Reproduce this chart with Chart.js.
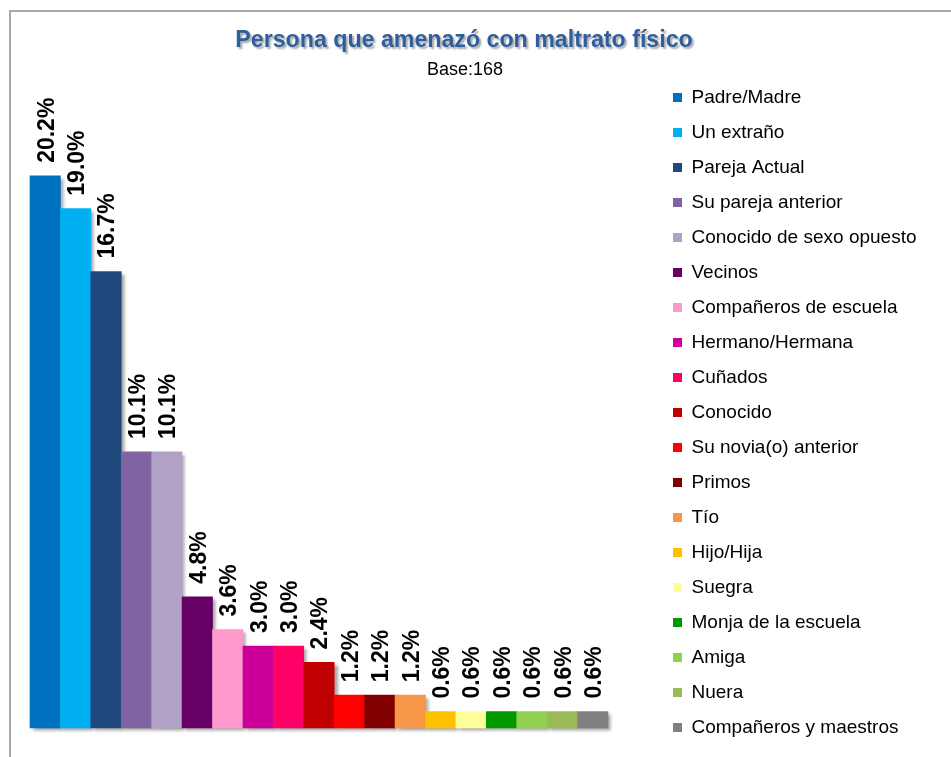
<!DOCTYPE html>
<html><head><meta charset="utf-8">
<script src="https://cdn.jsdelivr.net/npm/chart.js@4.4.1/dist/chart.umd.min.js"></script>
<style>
html,body{margin:0;padding:0;background:#fff;overflow:hidden;width:951px;height:757px;}
#frame{position:absolute;left:9px;top:10px;width:1200px;height:1000px;border-left:2px solid #a8a8a8;border-top:2px solid #a8a8a8;}
#wrap{position:absolute;left:0;top:0;width:951px;height:757px;}
</style></head><body>
<div id="frame"></div>
<div id="wrap"><canvas id="c" width="951" height="757"></canvas></div>
<script>
const titleText = 'Persona que amenazó con maltrato físico';
const subtitleText = 'Base:168';
const categories = ['Padre/Madre','Un extraño','Pareja Actual','Su pareja anterior','Conocido de sexo opuesto','Vecinos','Compañeros de escuela','Hermano/Hermana','Cuñados','Conocido','Su novia(o) anterior','Primos','Tío','Hijo/Hija','Suegra','Monja de la escuela','Amiga','Nuera','Compañeros y maestros'];
const values = [20.2, 19.0, 16.7, 10.1, 10.1, 4.8, 3.6, 3.0, 3.0, 2.4, 1.2, 1.2, 1.2, 0.6, 0.6, 0.6, 0.6, 0.6, 0.6];
const colors = ['#0070C0','#00B0F0','#1F497D','#8064A2','#B2A1C7','#660066','#FF99CC','#CC0099','#FF0066','#C00000','#FF0000','#800000','#F79646','#FFC000','#FFFF99','#009900','#92D050','#9BBB59','#808080'];

const FONT = '"Liberation Sans", Arial, sans-serif';
const legendFontSize = 19;
const legendPad = 16;
const legendBox = 9;
const legendLeft = 657;
const yGap = 49;

const mctx = document.createElement('canvas').getContext('2d');
mctx.font = legendFontSize + 'px ' + FONT;
let maxW = 0;
categories.forEach(c => { maxW = Math.max(maxW, mctx.measureText(c).width); });
const legendWidth = legendPad + legendBox + legendFontSize / 2 + maxW + 10;
const padRight = Math.max(0, 951 - legendLeft - legendWidth);

const shadowAndLabels = {
  id: 'shadowAndLabels',
  beforeDatasetsDraw(chart) {
    const ctx = chart.ctx;
    ctx.save();
    ctx.shadowColor = 'rgba(0,0,0,0.35)';
    ctx.shadowBlur = 3;
    ctx.shadowOffsetX = 3;
    ctx.shadowOffsetY = 3;
  },
  afterDatasetsDraw(chart) {
    const ctx = chart.ctx;
    ctx.restore();
    const meta = chart.getDatasetMeta(0);
    ctx.save();
    ctx.font = 'bold 23px ' + FONT;
    ctx.fillStyle = '#000';
    ctx.textAlign = 'left';
    ctx.textBaseline = 'middle';
    meta.data.forEach((bar, i) => {
      ctx.save();
      ctx.translate(bar.x + 2, bar.y - 13);
      ctx.rotate(-Math.PI / 2);
      ctx.fillText(values[i].toFixed(1) + '%', 0, 0);
      ctx.restore();
    });
    ctx.restore();
  },
  afterDraw(chart) {
    const ctx = chart.ctx;
    ctx.save();
    ctx.textAlign = 'center';
    ctx.textBaseline = 'alphabetic';
    ctx.font = 'bold 23.2px ' + FONT;
    ctx.shadowColor = 'rgba(0,0,0,0.35)';
    ctx.shadowBlur = 2;
    ctx.shadowOffsetX = 2;
    ctx.shadowOffsetY = 2;
    ctx.fillStyle = '#2E5E9E';
    ctx.fillText(titleText, 464, 47);
    ctx.shadowColor = 'transparent';
    ctx.font = '18px ' + FONT;
    ctx.fillStyle = '#000';
    ctx.fillText(subtitleText, 465, 75);
    ctx.restore();
  }
};

new Chart(document.getElementById('c'), {
  type: 'bar',
  data: {
    labels: categories,
    datasets: [{
      data: values,
      backgroundColor: colors,
      borderWidth: 0,
      barPercentage: 1,
      categoryPercentage: 1,
      clip: false
    }]
  },
  options: {
    responsive: false,
    animation: false,
    devicePixelRatio: 1,
    layout: { padding: { left: 30, top: 72, bottom: 2, right: padRight } },
    scales: {
      x: {
        display: true,
        grid: { display: false },
        border: { display: false },
        ticks: { display: false },
        afterFit(s) { s.height = 27; }
      },
      y: {
        position: 'right',
        min: 0,
        max: 24,
        display: true,
        grid: { display: false },
        border: { display: false },
        ticks: { display: false },
        afterFit(s) { s.width = yGap; }
      }
    },
    plugins: {
      tooltip: { enabled: false },
      title: { display: false },
      legend: {
        display: true,
        position: 'right',
        align: 'start',
        maxWidth: 420,
        labels: {
          boxWidth: legendBox,
          boxHeight: legendBox,
          padding: legendPad,
          color: '#222',
          font: { size: legendFontSize, family: FONT },
          generateLabels() {
            return categories.map((c, i) => ({
              text: c, fillStyle: colors[i], strokeStyle: colors[i], lineWidth: 0,
              hidden: false, index: i, datasetIndex: 0
            }));
          }
        }
      }
    }
  },
  plugins: [shadowAndLabels]
});
</script>
</body></html>
